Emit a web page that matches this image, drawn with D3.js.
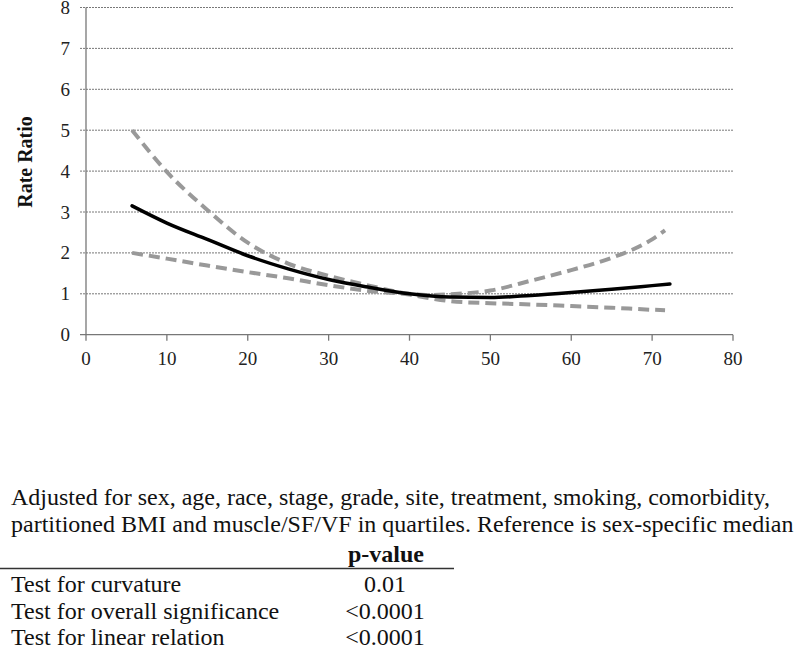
<!DOCTYPE html>
<html>
<head>
<meta charset="utf-8">
<title>Rate Ratio</title>
<script src="https://d3js.org/d3.v7.min.js"></script>
<style>
  body { margin: 0; background: #fff; }
  svg text { font-family: "Liberation Serif", "DejaVu Serif", serif; }
</style>
</head>
<body>
<div id="container"></div>
<script>
// estimate (solid) and 95% CI (dashed)
var xEst  = [5.7, 10, 15, 20, 25, 30, 35, 40, 45, 50, 55, 60, 65, 70, 72.2];
var yEst  = [3.15, 2.73, 2.33, 1.93, 1.61, 1.35, 1.16, 1.0, 0.92, 0.91, 0.96, 1.03, 1.11, 1.2, 1.24];
var xCI   = [5.7, 10, 15, 20, 25, 30, 35, 40, 42, 45, 50, 55, 60, 65, 70, 71.6];
var yUpper = [5.0, 3.98, 3.05, 2.25, 1.74, 1.44, 1.2, 1.0, 0.97, 0.99, 1.08, 1.32, 1.58, 1.88, 2.33, 2.55];
var yLower = [2.0, 1.86, 1.69, 1.53, 1.38, 1.21, 1.07, 0.98, 0.91, 0.82, 0.77, 0.74, 0.7, 0.66, 0.61, 0.6];

var xTicks = [0, 10, 20, 30, 40, 50, 60, 70, 80];
var yTicks = [0, 1, 2, 3, 4, 5, 6, 7, 8];

var noteLines = [
  "Adjusted for sex, age, race, stage, grade, site, treatment, smoking, comorbidity,",
  "partitioned BMI and muscle/SF/VF in quartiles. Reference is sex-specific median"
];
var testNames  = ["Test for curvature", "Test for overall significance", "Test for linear relation"];
var testPvals  = ["0.01", "<0.0001", "<0.0001"];

var width = 800, height = 652;
var svg = d3.select("#container").append("svg")
  .attr("width", width).attr("height", height);

var x = d3.scaleLinear().domain([0, 80]).range([86, 733]);
var y = d3.scaleLinear().domain([0, 8]).range([334.7, 7.5]);

// gridlines
svg.append("g").selectAll("line")
  .data(yTicks.filter(function(d) { return d > 0; }))
  .enter().append("line")
  .attr("x1", x(0) - 6).attr("x2", x(80))
  .attr("y1", function(d) { return y(d); }).attr("y2", function(d) { return y(d); })
  .attr("stroke", "#555").attr("stroke-width", 0.8).attr("stroke-dasharray", "2,1");

// axis lines and ticks from the scales, labels as plain text
svg.append("line").attr("x1", x(0)).attr("x2", x(0)).attr("y1", y(0)).attr("y2", y(8))
  .attr("stroke", "#777").attr("stroke-width", 1.3);
svg.append("line").attr("x1", x(0) - 6).attr("x2", x(80)).attr("y1", y(0)).attr("y2", y(0))
  .attr("stroke", "#777").attr("stroke-width", 1.3);
svg.append("g").selectAll("line").data(xTicks).enter().append("line")
  .attr("x1", function(d) { return x(d); }).attr("x2", function(d) { return x(d); })
  .attr("y1", y(0)).attr("y2", y(0) + 6)
  .attr("stroke", "#777").attr("stroke-width", 1.3);

svg.append("g").selectAll("text").data(xTicks).enter().append("text")
  .attr("x", function(d) { return x(d); }).attr("y", y(0) + 30)
  .attr("text-anchor", "middle").style("font-size", "19px").attr("fill", "#222")
  .text(function(d) { return d; });
svg.append("g").selectAll("text").data(yTicks).enter().append("text")
  .attr("x", x(0) - 16).attr("y", function(d) { return y(d) + 6.5; })
  .attr("text-anchor", "end").style("font-size", "19px").attr("fill", "#222")
  .text(function(d) { return d; });

svg.append("text")
  .attr("transform", "translate(32,162) rotate(-90)")
  .attr("text-anchor", "middle")
  .style("font-size", "20px").style("font-weight", "bold").attr("fill", "#111")
  .text("Rate Ratio");

// curves
var line = d3.line()
  .x(function(d) { return x(d[0]); })
  .y(function(d) { return y(d[1]); })
  .curve(d3.curveMonotoneX);

svg.append("path").datum(d3.zip(xCI, yUpper))
  .attr("d", line).attr("fill", "none")
  .attr("stroke", "#999").attr("stroke-width", 4).attr("stroke-dasharray", "11,6");
svg.append("path").datum(d3.zip(xCI, yLower))
  .attr("d", line).attr("fill", "none")
  .attr("stroke", "#999").attr("stroke-width", 4).attr("stroke-dasharray", "11,6");
svg.append("path").datum(d3.zip(xEst, yEst))
  .attr("d", line).attr("fill", "none")
  .attr("stroke", "#000").attr("stroke-width", 3.5).attr("stroke-linecap", "round");

// note below
svg.append("g").selectAll("text")
  .data(noteLines)
  .enter().append("text")
  .attr("x", 11).attr("y", function(d, i) { return 505 + i * 27; })
  .style("font-size", "24px").attr("fill", "#111")
  .text(function(d) { return d; });

// p-value table
svg.append("text")
  .attr("x", 386).attr("y", 562)
  .attr("text-anchor", "middle")
  .style("font-size", "24px").style("font-weight", "bold").attr("fill", "#111")
  .text("p-value");
svg.append("line")
  .attr("x1", 0).attr("x2", 454).attr("y1", 568.5).attr("y2", 568.5)
  .attr("stroke", "#333").attr("stroke-width", 1.5);

var rows = svg.append("g").selectAll("g")
  .data(d3.zip(testNames, testPvals))
  .enter().append("g")
  .attr("transform", function(d, i) { return "translate(0," + (592 + i * 26.5) + ")"; });
rows.append("text").attr("x", 11).style("font-size", "24px").attr("fill", "#111")
  .text(function(d) { return d[0]; });
rows.append("text").attr("x", 385).attr("text-anchor", "middle").style("font-size", "24px").attr("fill", "#111")
  .text(function(d) { return d[1]; });

svg.selectAll("text").style("font-family", "'Liberation Serif'");
</script>
</body>
</html>
